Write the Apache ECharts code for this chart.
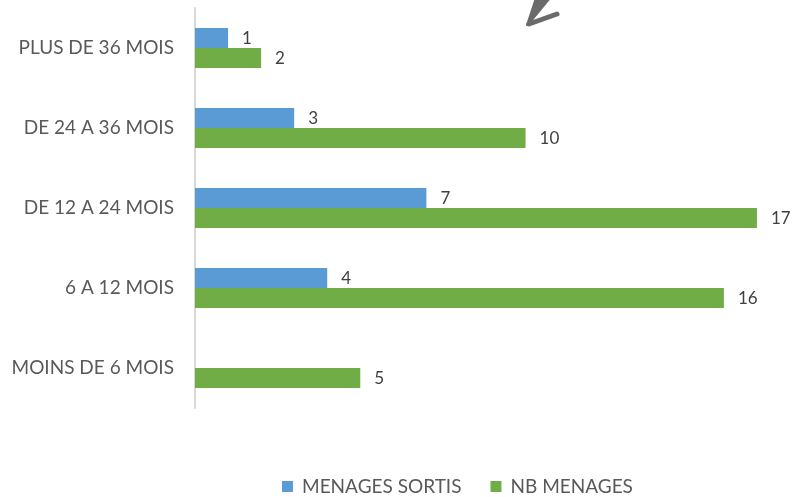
<!DOCTYPE html>
<html>
<head>
<meta charset="utf-8">
<script src="https://cdn.jsdelivr.net/npm/echarts@6/dist/echarts.min.js"></script>
<style>
  html, body { margin: 0; padding: 0; background: #fff; }
  #chart { width: 793px; height: 497px; }
</style>
</head>
<body>
<div id="chart"></div>
<script>
// Durée de présence des ménages
const categories = ['MOINS DE 6 MOIS', '6 A 12 MOIS', 'DE 12 A 24 MOIS', 'DE 24 A 36 MOIS', 'PLUS DE 36 MOIS'];
const menagesSortis = [null, 4, 7, 3, 1];
const nbMenages = [5, 16, 17, 10, 2];
const seriesNames = ['MENAGES SORTIS', 'NB MENAGES'];

const FONT = 'Lato, "Open Sans", sans-serif';
const chart = echarts.init(document.getElementById('chart'), null, { renderer: 'canvas' });

const labelStyle = {
  show: true,
  position: 'right',
  distance: 14,
  color: '#404040',
  fontFamily: FONT,
  fontSize: 17,
  offset: [0, 1],
  formatter: p => (p.value == null ? '' : p.value)
};

chart.setOption({
  animation: false,
  backgroundColor: '#ffffff',
  grid: { left: 195, right: 3, top: 8, bottom: 89, containLabel: false },
  xAxis: {
    type: 'value',
    min: 0,
    max: 18,
    show: false
  },
  yAxis: {
    type: 'category',
    data: categories,
    axisLine: { show: true, lineStyle: { color: '#d9d9d9', width: 2 } },
    axisTick: { show: false },
    axisLabel: {
      color: '#595959',
      fontFamily: FONT,
      fontSize: 19,
      margin: 21
    }
  },
  legend: {
    data: seriesNames,
    top: 472,
    left: 277,
    itemWidth: 11,
    itemHeight: 11,
    itemGap: 29,
    icon: 'rect',
    textStyle: { color: '#595959', fontFamily: FONT, fontSize: 19, padding: [0, 0, 0, 4] }
  },
  series: [
    {
      name: seriesNames[0],
      type: 'bar',
      data: menagesSortis,
      barGap: '0%',
      barCategoryGap: '50%',
      itemStyle: { color: '#5B9BD5' },
      label: labelStyle
    },
    {
      name: seriesNames[1],
      type: 'bar',
      data: nbMenages,
      barGap: '0%',
      barCategoryGap: '50%',
      itemStyle: { color: '#70AD47' },
      label: labelStyle
    }
  ],
  graphic: [
    {
      type: 'group',
      silent: true,
      children: [
        { type: 'polygon', shape: { points: [[536, -2], [550, -2], [531, 21], [527, 25]] },
          style: { fill: '#6b6b6b', stroke: '#6b6b6b', lineWidth: 2, lineJoin: 'round' } },
        { type: 'polyline', shape: { points: [[529, 24], [557, 14]] },
          style: { stroke: '#6b6b6b', lineWidth: 5, lineCap: 'round', fill: null } }
      ]
    }
  ]
});
</script>
</body>
</html>
